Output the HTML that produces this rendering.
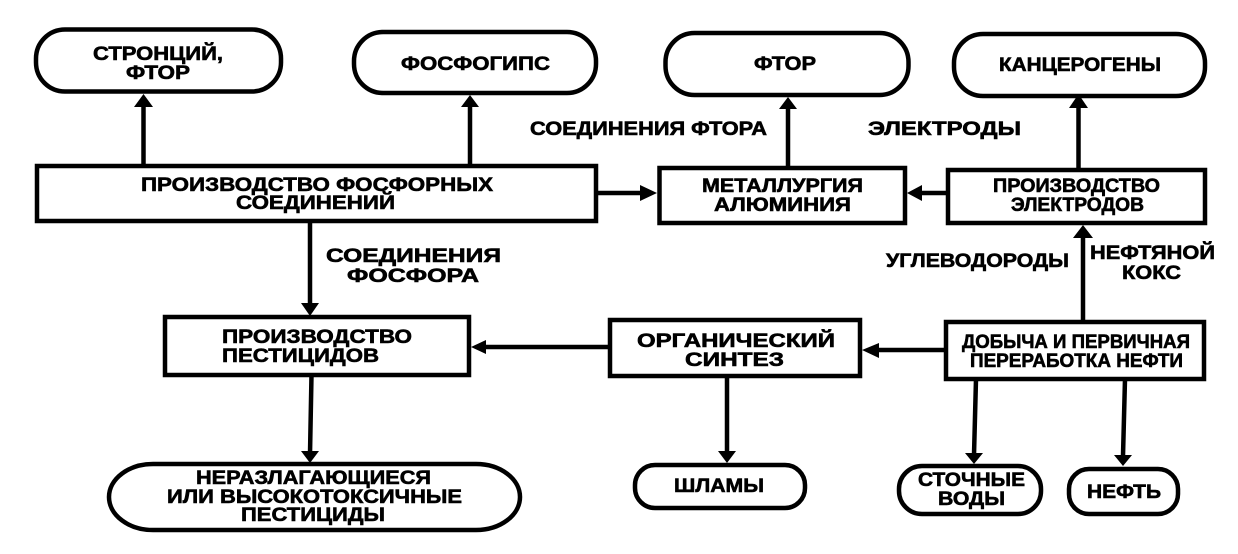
<!DOCTYPE html>
<html><head><meta charset="utf-8"><style>
html,body{margin:0;padding:0;background:#fff;width:1238px;height:554px;overflow:hidden}
svg{display:block}
text{font-family:"Liberation Sans",sans-serif;font-weight:700;font-size:19px;fill:#000;stroke:#000;stroke-width:.6px}
.b{fill:#fff;stroke:#000;stroke-width:4.5}
.l{stroke:#000;stroke-width:4.5;fill:none}
polygon{fill:#000}
</style></head><body>
<svg width="1238" height="554" viewBox="0 0 1238 554">
<rect class="b" x="36" y="29.5" width="245" height="62" rx="29"/>
<rect class="b" x="354" y="32" width="242" height="61" rx="29"/>
<rect class="b" x="665.5" y="33" width="243" height="62" rx="29"/>
<rect class="b" x="954" y="34" width="251" height="62" rx="29"/>
<rect class="b" x="37" y="166" width="559" height="55"/>
<rect class="b" x="659.5" y="168" width="245.5" height="55"/>
<rect class="b" x="948" y="170" width="257" height="53"/>
<rect class="b" x="165" y="317" width="304" height="58"/>
<rect class="b" x="610" y="320" width="250" height="56"/>
<rect class="b" x="946" y="322" width="258" height="57"/>
<rect class="b" x="109" y="464" width="411" height="66" rx="44" ry="33"/>
<rect class="b" x="635" y="465" width="170" height="43" rx="20"/>
<rect class="b" x="899" y="466" width="142" height="48" rx="23"/>
<rect class="b" x="1069" y="469" width="109" height="45" rx="20"/>
<path class="l" d="M143.5 166V104M470 166V104M788 168V107M1078.500 170V106M596 193H642M946 193H920M310 221V306M1083 322V235M610 347H483M946 350H877M311.500 375L310 454M727 376V453M976 379L974 455M1125 379L1123 456"/>
<polygon points="143.500,94 134,107 153,107"/>
<polygon points="470,95 461,107 479,107"/>
<polygon points="788,97 779,109 797,109"/>
<polygon points="1078.500,94 1069,108 1088,108"/>
<polygon points="657,193 640,185 640,201"/>
<polygon points="907,193 922,185 922,201"/>
<polygon points="310,316 301,303 319,303"/>
<polygon points="1083,225 1073,238 1093,238"/>
<polygon points="471,347 486,340 486,354"/>
<polygon points="862,350 879,343 879,358"/>
<polygon points="310,463 301,451 319,451"/>
<polygon points="727,463 718,451 736,451"/>
<polygon points="974,464 965,453 983,453"/>
<polygon points="1123,466 1114,455 1132,455"/>
<g>
<text x="93" y="60" textLength="130" lengthAdjust="spacingAndGlyphs">СТРОНЦИЙ,</text>
<text x="126" y="79" textLength="64" lengthAdjust="spacingAndGlyphs">ФТОР</text>
<text x="401" y="70" textLength="149" lengthAdjust="spacingAndGlyphs">ФОСФОГИПС</text>
<text x="754" y="70" textLength="62" lengthAdjust="spacingAndGlyphs">ФТОР</text>
<text x="999" y="71" textLength="162" lengthAdjust="spacingAndGlyphs">КАНЦЕРОГЕНЫ</text>
<text x="530" y="135" textLength="237" lengthAdjust="spacingAndGlyphs">СОЕДИНЕНИЯ ФТОРА</text>
<text x="868" y="135" textLength="153" lengthAdjust="spacingAndGlyphs">ЭЛЕКТРОДЫ</text>
<text x="141" y="191" textLength="352" lengthAdjust="spacingAndGlyphs">ПРОИЗВОДСТВО ФОСФОРНЫХ</text>
<text x="236" y="209" textLength="159" lengthAdjust="spacingAndGlyphs">СОЕДИНЕНИЙ</text>
<text x="702" y="192" textLength="161" lengthAdjust="spacingAndGlyphs">МЕТАЛЛУРГИЯ</text>
<text x="714" y="211" textLength="137" lengthAdjust="spacingAndGlyphs">АЛЮМИНИЯ</text>
<text x="993" y="192" textLength="167" lengthAdjust="spacingAndGlyphs">ПРОИЗВОДСТВО</text>
<text x="1011" y="211" textLength="133" lengthAdjust="spacingAndGlyphs">ЭЛЕКТРОДОВ</text>
<text x="326" y="262" textLength="175" lengthAdjust="spacingAndGlyphs">СОЕДИНЕНИЯ</text>
<text x="347" y="282" textLength="132" lengthAdjust="spacingAndGlyphs">ФОСФОРА</text>
<text x="886" y="267" textLength="183" lengthAdjust="spacingAndGlyphs">УГЛЕВОДОРОДЫ</text>
<text x="1090" y="259" textLength="125" lengthAdjust="spacingAndGlyphs">НЕФТЯНОЙ</text>
<text x="1122" y="279" textLength="59" lengthAdjust="spacingAndGlyphs">КОКС</text>
<text x="222" y="343" textLength="190" lengthAdjust="spacingAndGlyphs">ПРОИЗВОДСТВО</text>
<text x="222" y="362" textLength="157" lengthAdjust="spacingAndGlyphs">ПЕСТИЦИДОВ</text>
<text x="637" y="347" textLength="198" lengthAdjust="spacingAndGlyphs">ОРГАНИЧЕСКИЙ</text>
<text x="685" y="366" textLength="99" lengthAdjust="spacingAndGlyphs">СИНТЕЗ</text>
<text x="962" y="348" textLength="228" lengthAdjust="spacingAndGlyphs">ДОБЫЧА И ПЕРВИЧНАЯ</text>
<text x="970" y="367" textLength="213" lengthAdjust="spacingAndGlyphs">ПЕРЕРАБОТКА НЕФТИ</text>
<text x="196" y="484" textLength="235" lengthAdjust="spacingAndGlyphs">НЕРАЗЛАГАЮЩИЕСЯ</text>
<text x="167" y="503" textLength="295" lengthAdjust="spacingAndGlyphs">ИЛИ ВЫСОКОТОКСИЧНЫЕ</text>
<text x="241" y="521" textLength="144" lengthAdjust="spacingAndGlyphs">ПЕСТИЦИДЫ</text>
<text x="674" y="492" textLength="90" lengthAdjust="spacingAndGlyphs">ШЛАМЫ</text>
<text x="918" y="486" textLength="107" lengthAdjust="spacingAndGlyphs">СТОЧНЫЕ</text>
<text x="938" y="505" textLength="67" lengthAdjust="spacingAndGlyphs">ВОДЫ</text>
<text x="1087" y="498" textLength="74" lengthAdjust="spacingAndGlyphs">НЕФТЬ</text>
</g>
</svg>
</body></html>
